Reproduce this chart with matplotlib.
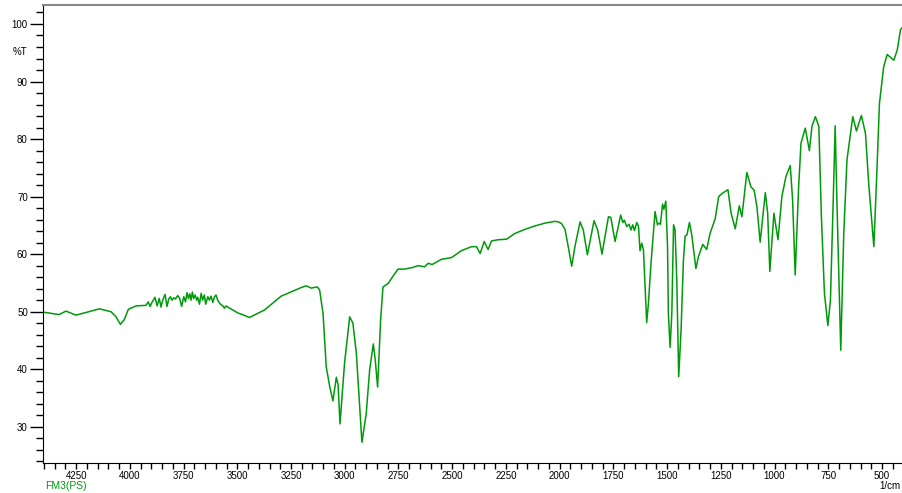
#!/usr/bin/python
#coding=utf-8

import matplotlib
matplotlib.use('Agg')
import matplotlib.pyplot as plt
from matplotlib.ticker import MultipleLocator

# wavenumber (1/cm) and %T
wavenumber = [4400, 4329, 4297, 4251, 4200, 4142, 4088, 4064, 4044, 4026, 4007, 3971,
    3925, 3914, 3906, 3897, 3883, 3873, 3863, 3855, 3847, 3836, 3827, 3819, 3811, 3804,
    3796, 3788, 3777, 3768, 3759, 3749, 3741, 3734, 3727, 3721, 3715, 3709, 3703, 3696,
    3689, 3684, 3676, 3668, 3661, 3653, 3647, 3637, 3630, 3622, 3614, 3606, 3599, 3591,
    3583, 3575, 3567, 3560, 3552, 3544,
    3498, 3443, 3373, 3296, 3202, 3179, 3156, 3128, 3117, 3101, 3086, 3070, 3055, 3039,
    3031, 3022, 3001, 2977, 2962, 2946, 2920, 2900, 2884, 2867, 2858, 2847, 2833, 2822,
    2798, 2775, 2752, 2721, 2682, 2659, 2628, 2612, 2593, 2550, 2503, 2457, 2410, 2387,
    2370, 2351, 2333, 2317, 2286, 2247, 2208, 2162, 2115, 2068, 2022, 2006, 1991, 1975,
    1960, 1944, 1929, 1905, 1890, 1871, 1840, 1823, 1803, 1773, 1762, 1742, 1716, 1706,
    1699, 1688, 1677, 1668, 1660, 1652, 1641, 1633, 1626, 1618, 1610, 1602, 1595, 1587,
    1575, 1564, 1556, 1545, 1537, 1531, 1521, 1515, 1506, 1498, 1494, 1486, 1478, 1470,
    1463, 1455, 1446, 1435, 1424, 1416, 1408, 1396, 1385, 1366, 1354, 1334, 1316, 1300,
    1276, 1260, 1242, 1217, 1202, 1183, 1164, 1152, 1129, 1110, 1095, 1082, 1067, 1043,
    1032, 1022, 1003, 984, 966, 947, 927, 916, 904, 888, 877, 857, 838, 826, 810, 794,
    782, 768, 752, 740, 727, 718, 710, 692, 678, 663, 636, 619, 596, 577, 562, 538,
    523, 512, 492, 476, 445, 429, 414, 397]
transmittance = [49.9, 49.5, 50.1, 49.4, 49.9, 50.5, 50.0, 49.1, 47.8, 48.6, 50.4, 51.0,
    51.1, 51.7, 50.9, 51.6, 52.5, 51.0, 52.3, 50.8, 52.0, 53.0, 50.9, 52.2, 52.6, 52.0,
    52.4, 52.2, 52.8, 52.3, 50.9, 52.6, 51.7, 53.3, 52.3, 53.1, 52.0, 53.4, 52.3, 52.9,
    52.0, 52.5, 51.3, 53.2, 52.0, 52.9, 51.3, 52.6, 52.0, 52.7, 51.6, 52.6, 52.9, 52.0,
    51.5, 51.2, 51.0, 50.6, 51.0, 50.8,
    49.8, 49.0, 50.3, 52.7, 54.2, 54.5, 54.1, 54.3, 53.8, 49.7, 40.4, 37.0, 34.5, 38.6,
    37.3, 30.5, 41.0, 49.1, 48.0, 42.8, 27.3, 32.3, 39.9, 44.4, 41.6, 36.9, 48.6, 54.3,
    54.9, 56.2, 57.4, 57.4, 57.7, 58.0, 57.8, 58.4, 58.2, 59.1, 59.4, 60.6, 61.3, 61.3,
    60.1, 62.2, 60.8, 62.3, 62.5, 62.6, 63.6, 64.3, 64.9, 65.4, 65.7, 65.6, 65.3, 64.3,
    61.3, 57.9, 61.3, 65.6, 64.2, 59.9, 65.8, 64.2, 60.0, 66.5, 66.4, 62.2, 66.8, 65.5,
    65.9, 64.8, 65.2, 64.2, 65.1, 64.1, 65.5, 64.8, 60.6, 61.9, 60.7, 53.8, 48.1, 51.4,
    58.4, 63.6, 67.4, 65.1, 65.4, 65.2, 68.7, 67.8, 69.2, 61.3, 49.7, 43.8, 49.7, 65.1,
    64.2, 55.5, 38.7, 46.8, 59.0, 63.2, 63.3, 65.5, 63.3, 57.5, 59.6, 61.7, 60.8, 63.6,
    66.2, 70.0, 70.6, 71.2, 67.1, 64.4, 68.4, 66.5, 74.2, 71.7, 71.1, 68.2, 62.1, 70.7,
    67.1, 57.0, 67.1, 62.5, 70.0, 73.5, 75.4, 69.4, 56.4, 71.7, 79.3, 81.9, 78.0, 82.2,
    83.9, 82.2, 66.5, 53.2, 47.6, 52.0, 69.4, 82.3, 69.4, 43.3, 63.6, 76.4, 83.9, 81.4,
    84.1, 81.0, 72.3, 61.3, 75.2, 86.2, 92.6, 94.7, 93.7, 95.5, 99.0, 99.8]

y_ticks = [30, 40, 50, 60, 70, 80, 90, 100]
x_ticks = [4250, 4000, 3750, 3500, 3250, 3000, 2750, 2500, 2250, 2000, 1750, 1500,
    1250, 1000, 750, 500]

GREEN = '#00990a'

plt.rcParams['font.family'] = ['Liberation Sans', 'DejaVu Sans']

fig = plt.figure(figsize=(9.02, 4.93), dpi=100)
ax = fig.add_axes([43/902., 1-463/493., (902-43)/902., (463-5)/493.])
ax.plot(wavenumber, transmittance, color=GREEN, lw=1.1)

ax.set_xlim(4404, 407)
ax.set_ylim(23.7, 103.3)
ax.set_xticks(x_ticks)
ax.set_yticks(y_ticks)
ax.xaxis.set_minor_locator(MultipleLocator(50))
ax.yaxis.set_minor_locator(MultipleLocator(2))

ax.tick_params(axis='y', which='major', direction='out', length=9.4, width=1, pad=1.5, labelsize=7)
ax.tick_params(axis='y', which='minor', direction='out', length=5, width=1)
ax.tick_params(axis='x', which='major', direction='out', length=4, width=1, pad=1.5, labelsize=7)
ax.tick_params(axis='x', which='minor', direction='out', length=4, width=1)

ax.spines['right'].set_visible(False)
ax.spines['top'].set_color('#888888')
ax.spines['top'].set_linewidth(1.5)

fig.text(19.5/902., 1-52/493., '%T', ha='center', va='center', fontsize=7)
fig.text(45/902., 1-486/493., 'FM3(PS)', ha='left', va='center', fontsize=7.5, color=GREEN)
fig.text(879/902., 1-486/493., '1/cm', ha='left', va='center', fontsize=7)

plt.savefig('out.png', dpi=100)
